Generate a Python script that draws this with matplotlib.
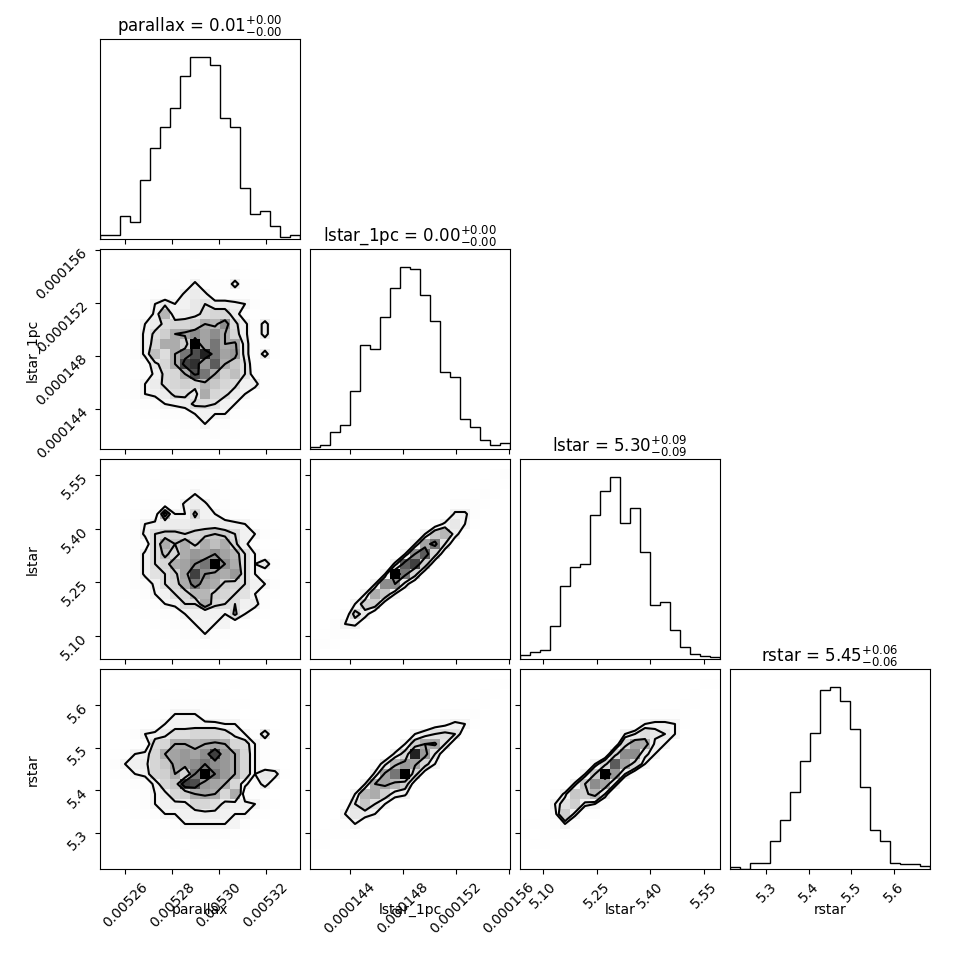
import numpy as np
import matplotlib
matplotlib.use("Agg")
import matplotlib.pyplot as plt
from matplotlib.colors import LinearSegmentedColormap

# ---------------- data ----------------
labels = ["parallax", "lstar_1pc", "lstar", "rstar"]
titles = [r"parallax = $0.01_{-0.00}^{+0.00}$",
          r"lstar_1pc = $0.00_{-0.00}^{+0.00}$",
          r"lstar = $5.30_{-0.09}^{+0.09}$",
          r"rstar = $5.45_{-0.06}^{+0.06}$"]

par_range = (0.0052493, 0.0053346)
l1_range = (0.00014098, 0.00015608)
ls_range = (5.0344, 5.5951)
rs_range = (5.2144, 5.6850)

par_counts = [12, 12, 68, 52, 177, 273, 337, 393, 489, 545, 545, 521, 364, 337, 153, 74, 84, 39, 5, 11]
l1_counts = [5, 12, 50, 71, 173, 312, 299, 395, 482, 545, 539, 461, 383, 232, 216, 89, 65, 28, 11, 18]
ls_counts = [13, 20, 27, 98, 220, 276, 284, 431, 504, 545, 409, 452, 320, 163, 170, 86, 35, 15, 9, 7]
rs_counts = [5, 0, 17, 17, 84, 147, 231, 325, 407, 537, 545, 504, 419, 245, 117, 83, 18, 15, 15, 9]

par_ticks = [0.00526, 0.00528, 0.00530, 0.00532]
l1_ticks = [0.000144, 0.000148, 0.000152, 0.000156]
ls_ticks = [5.10, 5.25, 5.40, 5.55]
rs_ticks = [5.3, 5.4, 5.5, 5.6]
par_ticklabels = ["0.00526", "0.00528", "0.00530", "0.00532"]
l1_ticklabels = ["0.000144", "0.000148", "0.000152", "0.000156"]
ls_ticklabels = ["5.10", "5.25", "5.40", "5.55"]
rs_ticklabels = ["5.3", "5.4", "5.5", "5.6"]

# 2D histogram cell counts (base-36 digits), rows from top (high y) to bottom,
# columns from left (low x) to right
grid_l1_par = [
    "00000100010000000000",
    "00000010101010000000",
    "00000111222112100000",
    "00001112272228210000",
    "00011222787222211000",
    "0001269679a887621000",
    "000127g789bcc8311000",
    "001268bccdhgkb728100",
    "00127bdhikikhc728100",
    "00127chhduimhi822100",
    "00127fbhmpsmij828100",
    "001139chqrjohea21000",
    "001137bchpmhdfa31000",
    "001268bcdcgecb781000",
    "0012678bb8hcb8621000",
    "000123678bba76210000",
    "00001122367662100000",
    "00000011226221000000",
    "00000001111211000000",
    "00000000101010000000",
]
grid_ls_par = [
    "00000000010000000000",
    "00000011001010000000",
    "00000111222111000000",
    "00000112262211000000",
    "00001232787221000000",
    "000123g66c7632100000",
    "00126788899987621000",
    "00127bccbcdedb762100",
    "00123bhehdhfhc731000",
    "00127bfchjikigb62100",
    "00127bchikmukhb69200",
    "00127abdiqkihjb62100",
    "001237bchmihdcb76200",
    "0011267bcggdcba62100",
    "00011267bbhcbb782000",
    "0000112367776c621000",
    "00000112367662100000",
    "00000011226221000000",
    "00000001111211000000",
    "00000000100101000000",
]
grid_rs_par = [
    "00000000100000000000",
    "00000100010001000000",
    "00000011111110000000",
    "00000112222211100000",
    "00000126663221000000",
    "00001267777766210000",
    "0012678bbcccb8629100",
    "00112bchhghihcb62100",
    "01267chijikqjhc62100",
    "02678ceijkmkjhc62100",
    "01267cdhcmumjhc69810",
    "001237ceqpjihc738200",
    "0011268cdhihch321000",
    "001126788ccb87762100",
    "00011266778876621000",
    "00000012666666210000",
    "00000011222221100000",
    "00000001011101000000",
    "00000000101000000000",
    "00000000000000000000",
]
grid_ls_l1 = [
    "00000000000000000000",
    "00000000000000000012",
    "00000000000000000111",
    "00000000000000001210",
    "00000000000000222100",
    "00000000000000772000",
    "00000000000037961000",
    "000000000006eg820000",
    "00000000006ima200000",
    "0000000006koc2000000",
    "000000007oqd20000000",
    "00000006umc200000000",
    "0000006kk82000000000",
    "000006he620000000000",
    "00006dd3000000000000",
    "0002c820000000000000",
    "00267200000000000000",
    "01221000000000000000",
    "12100000000000000000",
    "10000000000000000000",
]
grid_rs_l1 = [
    "00000000000000000000",
    "00000000000000000011",
    "00000000000000000110",
    "00000000000000001100",
    "00000000000002212000",
    "00000000000245761000",
    "000000000068aba20000",
    "0000000006dhia200000",
    "000000007csja2000000",
    "00000029gjic60000000",
    "0000007imuc300000000",
    "000006higd3000000000",
    "00006ghd870000000000",
    "0002aea6200000000000",
    "00069860000000000000",
    "00126200000000000000",
    "01111000000000000000",
    "11000000000000000000",
    "00000000000000000000",
    "00000000000000000000",
]
grid_rs_ls = [
    "00000000000000000000",
    "00000000000000000011",
    "00000000000000000100",
    "00000000000000001100",
    "00000000000002221000",
    "00000000000267761000",
    "000000000068b9860000",
    "0000000003cih7600000",
    "000000002ckk96000000",
    "00000006coic60000000",
    "0000006euj8300000000",
    "000007eki80000000000",
    "00027edg800000000000",
    "0006ad76200000000000",
    "0015d722000000000000",
    "11126200000000000000",
    "10111000000000000000",
    "01100000000000000000",
    "00000000000000000000",
    "00000000000000000000",
]

# ---------------- plotting ----------------
ranges = [par_range, l1_range, ls_range, rs_range]
counts = [par_counts, l1_counts, ls_counts, rs_counts]
ticks = [par_ticks, l1_ticks, ls_ticks, rs_ticks]
ticklabels = [par_ticklabels, l1_ticklabels, ls_ticklabels, rs_ticklabels]
grids = {(1, 0): grid_l1_par, (2, 0): grid_ls_par, (3, 0): grid_rs_par,
         (2, 1): grid_ls_l1, (3, 1): grid_rs_l1, (3, 2): grid_rs_ls}

K = 4
nbins = 20
density_cmap = LinearSegmentedColormap.from_list("density_cmap", ["k", (1, 1, 1, 0)])
white_cmap = LinearSegmentedColormap.from_list("white_cmap", [(1, 1, 1), (1, 1, 1)], N=2)
levels = 1.0 - np.exp(-0.5 * np.arange(0.5, 2.1, 0.5) ** 2)


def draw_2d(ax, rows, xr, yr):
    G = np.array([[int(c, 36) for c in r] for r in rows], dtype=float)
    H = G[::-1].T  # H[ix, iy]
    X = np.linspace(xr[0], xr[1], nbins + 1)
    Y = np.linspace(yr[0], yr[1], nbins + 1)
    Hflat = H.flatten()
    inds = np.argsort(Hflat)[::-1]
    Hflat = Hflat[inds]
    sm = np.cumsum(Hflat)
    sm /= sm[-1]
    V = np.empty(len(levels))
    for i, v0 in enumerate(levels):
        try:
            V[i] = Hflat[sm <= v0][-1]
        except IndexError:
            V[i] = Hflat[0]
    V.sort()
    m = np.diff(V) == 0
    while np.any(m):
        V[np.where(m)[0][0]] *= 1.0 - 1e-4
        m = np.diff(V) == 0
    V.sort()
    X1, Y1 = 0.5 * (X[1:] + X[:-1]), 0.5 * (Y[1:] + Y[:-1])
    H2 = H.min() + np.zeros((H.shape[0] + 4, H.shape[1] + 4))
    H2[2:-2, 2:-2] = H
    H2[2:-2, 1] = H[:, 0]
    H2[2:-2, -2] = H[:, -1]
    H2[1, 2:-2] = H[0]
    H2[-2, 2:-2] = H[-1]
    H2[1, 1] = H[0, 0]
    H2[1, -2] = H[0, -1]
    H2[-2, 1] = H[-1, 0]
    H2[-2, -2] = H[-1, -1]
    X2 = np.concatenate([X1[0] + np.array([-2, -1]) * np.diff(X1[:2]), X1,
                         X1[-1] + np.array([1, 2]) * np.diff(X1[-2:])])
    Y2 = np.concatenate([Y1[0] + np.array([-2, -1]) * np.diff(Y1[:2]), Y1,
                         Y1[-1] + np.array([1, 2]) * np.diff(Y1[-2:])])
    ax.contourf(X2, Y2, H2.T, [V.min(), H.max()], cmap=white_cmap, antialiased=False)
    ax.pcolormesh(X, Y, H.max() - H.T, cmap=density_cmap, shading="flat")
    ax.contour(X2, Y2, H2.T, V, colors="k", linewidths=1.5)
    ax.set_xlim(xr)
    ax.set_ylim(yr)


fig, axes = plt.subplots(K, K, figsize=(9.7, 9.7), dpi=100)
lb = 1.0 / 9.7
tr = 9.3 / 9.7
fig.subplots_adjust(left=lb, bottom=lb, right=tr, top=tr, wspace=0.05, hspace=0.05)

for i in range(K):
    for j in range(K):
        ax = axes[i, j]
        if j > i:
            ax.set_frame_on(False)
            ax.set_xticks([])
            ax.set_yticks([])
            continue
        if i == j:
            edges = np.linspace(ranges[i][0], ranges[i][1], nbins + 1)
            ax.stairs(counts[i], edges, color="k", linewidth=1.0)
            ax.set_xlim(ranges[i])
            ax.set_ylim(0, 1.1 * max(counts[i]))
            ax.set_yticks([])
            ax.set_title(titles[i], fontsize=12)
        else:
            draw_2d(ax, grids[(i, j)], ranges[j], ranges[i])
            ax.set_yticks(ticks[i])
            if j == 0:
                ax.set_yticklabels(ticklabels[i], rotation=45)
                ax.set_ylabel(labels[i], fontsize=10)
                ax.yaxis.set_label_coords(-0.3, 0.5)
            else:
                ax.set_yticklabels([])
        ax.set_xticks(ticks[j])
        if i == K - 1:
            ax.set_xticklabels(ticklabels[j], rotation=45)
            ax.set_xlabel(labels[j], fontsize=10)
            ax.xaxis.set_label_coords(0.5, -0.165)
        else:
            ax.set_xticklabels([])

fig.savefig("out.png", dpi=100)
